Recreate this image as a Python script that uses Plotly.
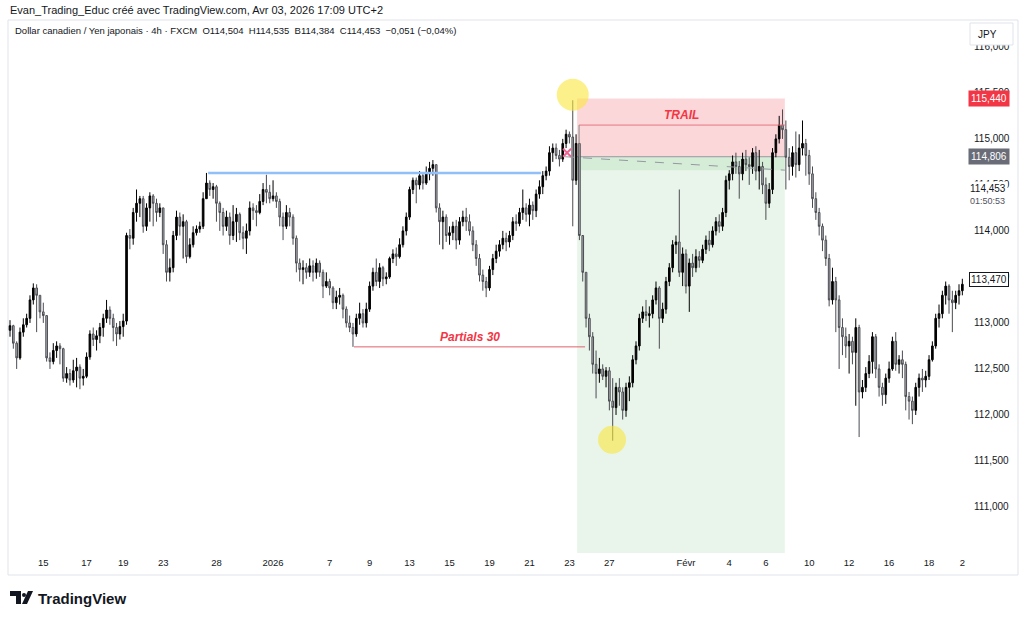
import plotly.graph_objects as go

# CAD/JPY 4h bars (one value per bar)
first_open = 112.92
close = [
    112.97, 112.78, 112.62, 112.90, 112.98, 113.05, 113.25, 113.38, 113.30, 113.12,
    113.08, 112.62, 112.58, 112.70, 112.75, 112.72, 112.40, 112.45, 112.38, 112.48,
    112.52, 112.40, 112.42, 112.63, 112.88, 112.82, 112.86, 112.95, 113.05, 113.14,
    113.05, 112.95, 112.88, 112.96, 113.02, 113.95, 113.92, 114.20, 114.30, 114.35,
    114.05, 114.25, 114.38, 114.30, 114.20, 114.25, 113.85, 113.55, 113.60, 113.95,
    114.15, 114.05, 114.10, 113.72, 113.85, 113.98, 114.02, 114.05, 114.35, 114.52,
    114.45, 114.48, 114.30, 114.20, 114.05, 114.15, 113.95, 114.10, 114.18, 113.98,
    113.92, 114.00, 114.25, 114.22, 114.20, 114.32, 114.45, 114.42, 114.35, 114.38,
    114.32, 114.15, 114.05, 114.20, 114.15, 113.92, 113.65, 113.58, 113.60, 113.55,
    113.62, 113.55, 113.65, 113.55, 113.40, 113.45, 113.38, 113.22, 113.28, 113.30,
    113.15, 113.00, 112.95, 112.88, 113.05, 113.10, 113.00, 113.15, 113.40, 113.55,
    113.45, 113.60, 113.48, 113.50, 113.70, 113.75, 113.72, 113.85, 114.00, 114.15,
    114.45, 114.55, 114.50, 114.60, 114.52, 114.62, 114.68, 114.72, 114.25, 114.10,
    114.15, 113.95, 113.98, 114.05, 113.90, 114.10, 114.15, 114.10, 114.00, 113.85,
    113.70, 113.52, 113.45, 113.38, 113.58, 113.70, 113.78, 113.85, 113.92, 113.88,
    113.95, 114.10, 114.08, 114.20, 114.25, 114.18, 114.28, 114.22, 114.40, 114.48,
    114.60, 114.65, 114.85, 114.90, 114.82, 114.78, 114.95, 115.05, 115.02, 114.55,
    114.95, 113.95, 113.55, 113.05, 112.85, 112.55, 112.45, 112.50, 112.42, 112.48,
    112.15, 112.08, 112.30, 112.25, 112.05, 112.30, 112.35, 112.60, 112.75, 113.05,
    113.12, 113.08, 113.10, 113.25, 113.38, 113.05, 113.15, 113.45, 113.60, 113.85,
    113.88, 113.55, 113.75, 113.40, 113.65, 113.60, 113.72, 113.68, 113.80, 113.90,
    113.85, 114.00, 114.10, 114.05, 114.20, 114.55, 114.62, 114.75, 114.70, 114.62,
    114.78, 114.72, 114.70, 114.85, 114.65, 114.70, 114.50, 114.30, 114.45, 114.85,
    115.00, 115.15, 115.10, 114.80, 114.70, 114.85, 114.72, 114.90, 114.95, 114.82,
    114.62, 114.35, 114.20, 114.05, 113.90, 113.70, 113.25, 113.45, 113.25, 112.95,
    112.85, 112.75, 112.80, 112.68, 112.95, 112.25, 112.30, 112.45, 112.58, 112.85,
    112.50, 112.30, 112.22, 112.40, 112.50, 112.80, 112.55, 112.60, 112.55, 112.20,
    112.15, 112.05, 112.30, 112.40, 112.38, 112.42, 112.60, 112.75, 113.05, 113.10,
    113.30, 113.40, 113.25, 113.22, 113.30, 113.35, 113.42,
]
high = [
    113.03, 112.98, 112.80, 112.95, 113.05, 113.10, 113.30, 113.43, 113.42, 113.25,
    113.22, 113.08, 112.68, 112.78, 112.80, 112.78, 112.73, 112.52, 112.50, 112.60,
    112.62, 112.55, 112.50, 112.68, 112.92, 112.95, 112.92, 113.00, 113.10, 113.25,
    113.18, 113.10, 113.00, 113.02, 113.10, 113.98, 114.02, 114.25, 114.45, 114.38,
    114.38, 114.30, 114.42, 114.40, 114.35, 114.30, 114.25, 113.90, 113.70, 114.00,
    114.22, 114.20, 114.18, 114.12, 113.92, 114.05, 114.06, 114.10, 114.42, 114.63,
    114.55, 114.52, 114.50, 114.32, 114.25, 114.22, 114.20, 114.28, 114.25, 114.20,
    114.05, 114.08, 114.32, 114.30, 114.28, 114.40, 114.52, 114.61, 114.50, 114.55,
    114.42, 114.35, 114.20, 114.28, 114.25, 114.18, 113.95, 113.70, 113.68, 113.65,
    113.70, 113.68, 113.70, 113.68, 113.58, 113.55, 113.48, 113.40, 113.35, 113.38,
    113.32, 113.18, 113.08, 113.00, 113.10, 113.22, 113.15, 113.22, 113.45, 113.60,
    113.70, 113.65, 113.62, 113.55, 113.72, 113.80, 113.82, 113.92, 114.05, 114.20,
    114.48, 114.58, 114.58, 114.65, 114.62, 114.70, 114.75, 114.77, 114.72, 114.30,
    114.22, 114.18, 114.05, 114.10, 114.12, 114.15, 114.22, 114.25, 114.18, 114.05,
    113.90, 113.75, 113.58, 113.50, 113.62, 113.75, 113.85, 113.90, 114.00, 113.98,
    114.00, 114.15, 114.18, 114.25, 114.45, 114.30, 114.35, 114.32, 114.45, 114.55,
    114.65, 114.70, 114.92, 114.95, 114.95, 114.88, 115.00, 115.10, 115.08, 115.42,
    115.05, 114.90, 113.90, 113.35, 113.10, 112.90, 112.70, 112.62, 112.55, 112.52,
    112.52, 112.40, 112.35, 112.40, 112.30, 112.35, 112.42, 112.65, 112.80, 113.10,
    113.18, 113.25, 113.18, 113.30, 113.45, 113.40, 113.22, 113.50, 113.65, 113.90,
    113.95, 114.45, 113.82, 113.80, 113.70, 113.75, 113.80, 113.78, 113.85, 113.95,
    114.00, 114.05, 114.15, 114.18, 114.25, 114.60, 114.66, 114.82, 114.85, 114.76,
    114.85, 114.88, 114.80, 114.90, 114.92, 114.88, 114.75, 114.58, 114.52, 114.90,
    115.05, 115.25, 115.32, 115.20, 114.90, 114.92, 115.08, 115.05, 115.20, 115.00,
    114.88, 114.70, 114.42, 114.25, 114.08, 113.95, 113.75, 113.60, 113.50, 113.30,
    113.05, 112.95, 112.88, 112.85, 113.05, 112.98, 112.38, 112.52, 112.65, 112.90,
    112.88, 112.55, 112.35, 112.45, 112.58, 112.85, 112.90, 112.65, 112.70, 112.58,
    112.25, 112.20, 112.35, 112.45, 112.50, 112.48, 112.65, 112.80, 113.10, 113.20,
    113.35, 113.45, 113.42, 113.35, 113.35, 113.42, 113.48,
]
low = [
    112.85, 112.72, 112.50, 112.60, 112.85, 112.95, 113.00, 113.20, 112.90, 113.05,
    113.00, 112.58, 112.50, 112.55, 112.62, 112.55, 112.36, 112.35, 112.32, 112.35,
    112.30, 112.28, 112.32, 112.40, 112.60, 112.75, 112.70, 112.78, 112.85, 113.00,
    112.98, 112.80, 112.75, 112.82, 112.85, 112.98, 113.80, 113.85, 114.10, 114.15,
    113.98, 114.00, 114.10, 114.05, 114.10, 114.15, 113.75, 113.45, 113.45, 113.55,
    113.90, 113.95, 113.70, 113.65, 113.70, 113.82, 113.95, 113.98, 114.02, 114.40,
    114.38, 114.35, 114.10, 114.00, 113.95, 114.00, 113.85, 113.90, 113.88, 113.90,
    113.80, 113.75, 113.95, 114.12, 114.05, 114.18, 114.28, 114.30, 114.30, 114.32,
    114.25, 114.05, 113.90, 114.02, 114.05, 113.85, 113.55, 113.45, 113.42, 113.48,
    113.50, 113.45, 113.48, 113.50, 113.27, 113.38, 113.30, 113.15, 113.15, 113.20,
    113.05, 112.95, 112.90, 112.74, 112.85, 112.98, 112.95, 112.95, 113.12, 113.35,
    113.40, 113.38, 113.40, 113.42, 113.48, 113.65, 113.62, 113.70, 113.82, 113.95,
    114.12, 114.40, 114.30, 114.45, 114.45, 114.50, 114.55, 114.60, 114.20, 113.85,
    113.80, 113.88, 113.85, 113.90, 113.80, 113.85, 114.05, 114.00, 113.95, 113.78,
    113.62, 113.45, 113.35, 113.28, 113.35, 113.52, 113.65, 113.72, 113.80, 113.78,
    113.82, 113.90, 114.00, 114.05, 114.12, 114.10, 114.05, 114.12, 114.15, 114.35,
    114.40, 114.55, 114.60, 114.75, 114.78, 114.70, 114.75, 114.90, 114.95, 114.05,
    114.50, 113.90, 113.45, 112.95, 112.70, 112.45, 112.18, 112.35, 112.38, 112.30,
    112.05, 111.72, 112.00, 112.10, 111.95, 111.98, 112.15, 112.30, 112.55, 112.70,
    113.00, 113.02, 112.95, 113.05, 113.20, 112.72, 113.00, 113.10, 113.40, 113.55,
    113.75, 113.50, 113.40, 113.32, 113.12, 113.50, 113.55, 113.60, 113.65, 113.75,
    113.78, 113.82, 113.95, 113.98, 114.00, 114.15, 114.45, 114.55, 114.62, 114.35,
    114.55, 114.65, 114.50, 114.62, 114.55, 114.45, 114.40, 114.12, 114.25, 114.40,
    114.80, 114.95, 115.00, 114.45, 114.55, 114.60, 114.58, 114.65, 114.82, 114.60,
    114.50, 114.25, 114.12, 113.95, 113.78, 113.62, 113.18, 113.20, 112.90, 112.50,
    112.65, 112.62, 112.45, 112.55, 112.10, 111.76, 112.18, 112.25, 112.40, 112.45,
    112.40, 112.20, 112.10, 112.12, 112.35, 112.48, 112.48, 112.45, 112.40, 112.05,
    111.95, 111.90, 112.00, 112.20, 112.25, 112.30, 112.38, 112.58, 112.72, 112.95,
    113.05, 113.20, 113.10, 112.90, 113.15, 113.20, 113.30,
]

# date labels and the bar where each one falls
tick_bars = [10, 23, 34, 46, 62, 79, 96, 108, 120, 132, 144, 156, 168, 180,
             203, 216, 227, 240, 252, 264, 276, 286]
tick_text = ["15", "17", "19", "23", "28", "2026", "7", "9", "13", "15", "19",
             "21", "23", "27", "Févr", "4", "6", "10", "12", "16", "18", "2"]
price_ticks = [111.0, 111.5, 112.0, 112.5, 113.0, 113.5, 114.0, 114.5, 115.0, 115.5, 116.0]
price_text = ["111,000", "111,500", "112,000", "112,500", "113,000", "113,500",
              "114,000", "114,500", "115,000", "115,500", "116,000"]

# drawings on the chart
range_high = 114.63
range_start, range_end = 59.5, 159.5
pos_start, pos_end = 170.3, 232.7
entry = 114.806
stop = 115.44
trail = 115.15
current = 114.66
partials = 112.74
partials_start = 103.3

W, H = 1024, 620
L, R, T, B = 8, 56, 22, 67
pw, ph = W - L - R, H - T - B


def px(x):
    return (x - L) / pw


def py(y):
    return (H - B - y) / ph


bars = list(range(len(close)))
opens = [first_open] + close[:-1]
hi = [max(h, o, c) for h, o, c in zip(high, opens, close)]
lo = [min(l, o, c) for l, o, c in zip(low, opens, close)]

fig = go.Figure()
fig.add_trace(go.Candlestick(
    x=bars, open=opens, high=hi, low=lo, close=close,
    increasing=dict(line=dict(color="#000000", width=1), fillcolor="#000000"),
    decreasing=dict(line=dict(color="#4a4c52", width=1), fillcolor="#b4b5b9"),
    whiskerwidth=0, hoverinfo="skip", showlegend=False,
))

RED = "#f23645"
shapes = [
    # position tool
    dict(type="rect", x0=pos_start, x1=pos_end, y0=entry, y1=stop,
         fillcolor="rgba(242,54,69,0.2)", line_width=0, layer="below"),
    dict(type="rect", x0=pos_start, x1=pos_end, y0=110.0, y1=entry,
         fillcolor="rgba(76,175,80,0.12)", line_width=0, layer="below"),
    dict(type="rect", x0=pos_start, x1=pos_end, y0=current, y1=entry,
         fillcolor="rgba(76,175,80,0.12)", line_width=0, layer="below"),
    dict(type="line", x0=pos_start, x1=pos_end, y0=entry, y1=entry,
         line=dict(color="#9598a1", width=1), layer="below"),
    dict(type="line", x0=166.7, x1=pos_end, y0=entry, y1=current,
         line=dict(color="#9598a1", width=1, dash="dash")),
    # trail
    dict(type="line", x0=170.9, x1=pos_end, y0=trail, y1=trail,
         line=dict(color="#e57580", width=1)),
    dict(type="line", x0=170.9, x1=170.9, y0=trail, y1=entry,
         line=dict(color="#888888", width=1)),
    # range high
    dict(type="line", x0=range_start, x1=range_end, y0=range_high, y1=range_high,
         line=dict(color="#90bff9", width=2.5)),
    # partials
    dict(type="line", x0=partials_start, x1=172.7, y0=partials, y1=partials,
         line=dict(color="#e0616d", width=1)),
    # yellow circles
    dict(type="circle", xsizemode="pixel", ysizemode="pixel", xanchor=169, yanchor=115.48,
         x0=-16, x1=16, y0=-16, y1=16, fillcolor="rgba(250,230,60,0.6)", line_width=0),
    dict(type="circle", xsizemode="pixel", ysizemode="pixel", xanchor=180.8, yanchor=111.73,
         x0=-14, x1=14, y0=-14, y1=14, fillcolor="rgba(250,230,60,0.6)", line_width=0),
    # chart frame
    dict(type="rect", xref="paper", yref="paper", x0=px(8), x1=px(1018), y0=py(575), y1=py(20),
         line=dict(color="#e0e3eb", width=1), fillcolor="rgba(0,0,0,0)", layer="below"),
    # JPY box
    dict(type="rect", xref="paper", yref="paper", x0=px(970), x1=px(1013), y0=py(45), y1=py(23),
         line=dict(color="#e0e3eb", width=1), fillcolor="white"),
    # TradingView logo
    dict(type="path", xref="paper", yref="paper",
         path=f"M {px(10)},{py(591)} L {px(21)},{py(591)} L {px(21)},{py(604)} L {px(16)},{py(604)} "
              f"L {px(16)},{py(596)} L {px(10)},{py(596)} Z",
         fillcolor="#131722", line_width=0),
    dict(type="circle", xref="paper", yref="paper", x0=px(22), x1=px(26), y0=py(597), y1=py(593),
         fillcolor="#131722", line_width=0),
    dict(type="path", xref="paper", yref="paper",
         path=f"M {px(28)},{py(591)} L {px(33)},{py(591)} L {px(27)},{py(604)} L {px(22)},{py(604)} Z",
         fillcolor="#131722", line_width=0),
]

annotations = [
    dict(x=px(8), y=py(10), xref="paper", yref="paper", xanchor="left", yanchor="middle",
         text="Evan_Trading_Educ créé avec TradingView.com, Avr 03, 2026 17:09 UTC+2",
         showarrow=False, font=dict(size=11, color="#131722")),
    dict(x=px(13), y=py(31), xref="paper", yref="paper", xanchor="left", yanchor="middle",
         text="Dollar canadien / Yen japonais · 4h · FXCM  O114,504  H114,535  B114,384  C114,453  −0,051 (−0,04%)",
         showarrow=False, font=dict(size=9.5, color="#131722")),
    dict(x=201.8, y=115.26, text="<b><i>TRAIL</i></b>", showarrow=False,
         font=dict(size=12, color=RED)),
    dict(x=138.1, y=112.85, text="<b><i>Partials 30</i></b>", showarrow=False,
         font=dict(size=12, color=RED)),
    dict(x=px(976), y=py(34), xref="paper", yref="paper", xanchor="left", yanchor="middle",
         text="JPY", showarrow=False, font=dict(size=10, color="#131722")),
    dict(x=px(968), y=stop, yref="y", xref="paper", xanchor="left", yanchor="middle",
         text="115,440", showarrow=False, font=dict(size=10, color="white"),
         bgcolor=RED, borderpad=2),
    dict(x=px(968), y=entry, yref="y", xref="paper", xanchor="left", yanchor="middle",
         text="114,806", showarrow=False, font=dict(size=10, color="white"),
         bgcolor="#6a6d78", borderpad=2),
    dict(x=px(968), y=py(189), yref="paper", xref="paper", xanchor="left", yanchor="middle",
         text="114,453", showarrow=False, font=dict(size=10, color="#131722"),
         bgcolor="white", borderpad=1),
    dict(x=px(968), y=py(201), yref="paper", xref="paper", xanchor="left", yanchor="middle",
         text="01:50:53", showarrow=False, font=dict(size=9, color="#50535e"),
         bgcolor="white", borderpad=1),
    dict(x=px(969), y=113.47, yref="y", xref="paper", xanchor="left", yanchor="middle",
         text="113,470", showarrow=False, font=dict(size=10, color="#131722"),
         bgcolor="white", bordercolor="#131722", borderwidth=1, borderpad=1),
    dict(x=px(36), y=py(598), xref="paper", yref="paper", xanchor="left", yanchor="middle",
         text="<b>TradingView</b>", showarrow=False, font=dict(size=15, color="#131722")),
]

fig.add_trace(go.Scatter(
    x=[167.3], y=[114.85], mode="markers", hoverinfo="skip", showlegend=False,
    marker=dict(symbol="x-thin", size=8, line=dict(color="#f06292", width=2)),
))

fig.update_layout(
    width=W, height=H,
    margin=dict(l=L, r=R, t=T, b=B),
    paper_bgcolor="white", plot_bgcolor="white",
    font=dict(family="Liberation Sans, Arial, sans-serif", color="#131722"),
    shapes=shapes, annotations=annotations,
    xaxis=dict(range=[-0.6, 287.7], rangeslider=dict(visible=False), showgrid=False,
               zeroline=False, tickmode="array", tickvals=tick_bars, ticktext=tick_text,
               ticks="", tickfont=dict(size=9.5, color="#131722"), ticklabelstandoff=2),
    yaxis=dict(range=[110.5, 116.27], side="right", showgrid=False, zeroline=False,
               tickmode="array", tickvals=price_ticks, ticktext=price_text, ticks="",
               tickfont=dict(size=10, color="#131722"), ticklabelstandoff=5),
)

# the page's default body margin would push the figure 8px right and down
fig.write_html("out.html", config={"displayModeBar": False},
               post_script="document.body.style.margin = '0';")
